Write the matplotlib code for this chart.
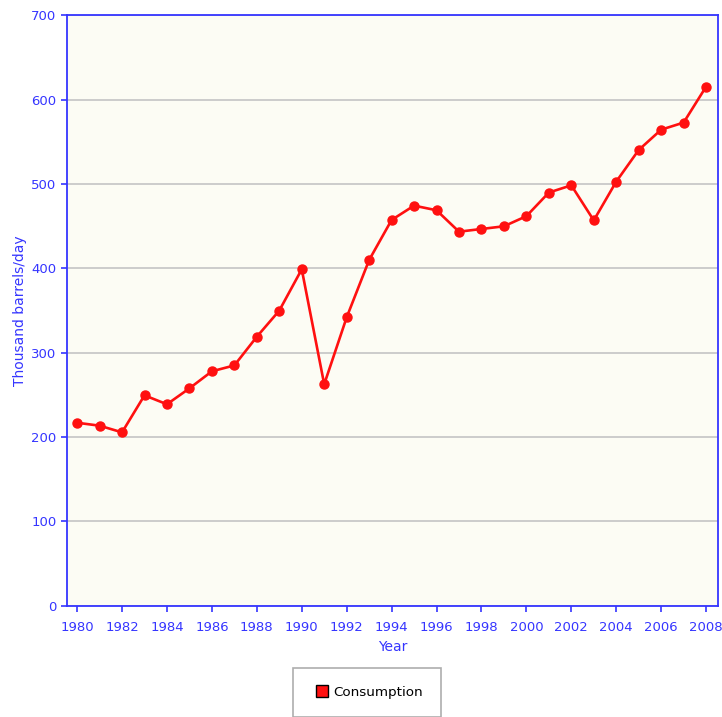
import numpy as np
import matplotlib.pyplot as plt
from matplotlib.lines import Line2D

# du lieu doc tu hinh
years = list(range(1980, 2009))
consumption = [217, 213.5, 205.6, 249.5, 238.9, 257.8, 278, 285, 319, 350,
               399, 262.6, 342, 410, 457.5, 474.5, 469, 443.6, 446.8, 450,
               462, 490, 498.6, 457, 503, 540.5, 564.6, 573, 615.6]
x_ticks = list(range(1980, 2009, 2))
y_ticks = [0, 100, 200, 300, 400, 500, 600, 700]

blue = '#3535ff'
red = '#ff1010'

fig = plt.figure(figsize=(7.22, 7.17), dpi=100)
ax = fig.add_axes([67/722, 1 - 605.7/717, (718 - 67)/722, (605.7 - 15.5)/717])
ax.set_facecolor('#fcfcf4')

ax.plot(years, consumption, color=red, linewidth=1.9, marker='o',
        markersize=6.5, markerfacecolor=red, markeredgecolor=red, zorder=3)

ax.set_xlim(1979.55, 2008.53)
ax.set_ylim(0, 700)
ax.set_xticks(x_ticks)
ax.set_yticks(y_ticks)
ax.yaxis.grid(True, color='#c4c4c4', linewidth=1.2)
ax.set_axisbelow(True)

for s in ax.spines.values():
    s.set_color(blue)
    s.set_linewidth(1.3)
ax.tick_params(colors=blue, labelcolor=blue, direction='out', length=4,
               width=1.2, labelsize=9.5)
ax.tick_params(axis='x', pad=7)

ax.set_xlabel('Year', color=blue, fontsize=10, labelpad=4)
ax.set_ylabel('Thousand barrels/day', color=blue, fontsize=10, labelpad=3)

handle = Line2D([], [], linestyle='none', marker='s', markersize=9,
                markerfacecolor=red, markeredgecolor='black', markeredgewidth=1)
leg = fig.legend([handle], ['Consumption'], loc='upper left',
                 bbox_to_anchor=(293/722, 1 - 668/717), frameon=True,
                 fancybox=False, edgecolor='#999999', borderpad=1.35,
                 handlelength=1.6, handletextpad=0.05, fontsize=9.7,
                 borderaxespad=0)
leg.get_frame().set_linewidth(1.2)

fig.savefig('out.png', dpi=100)
